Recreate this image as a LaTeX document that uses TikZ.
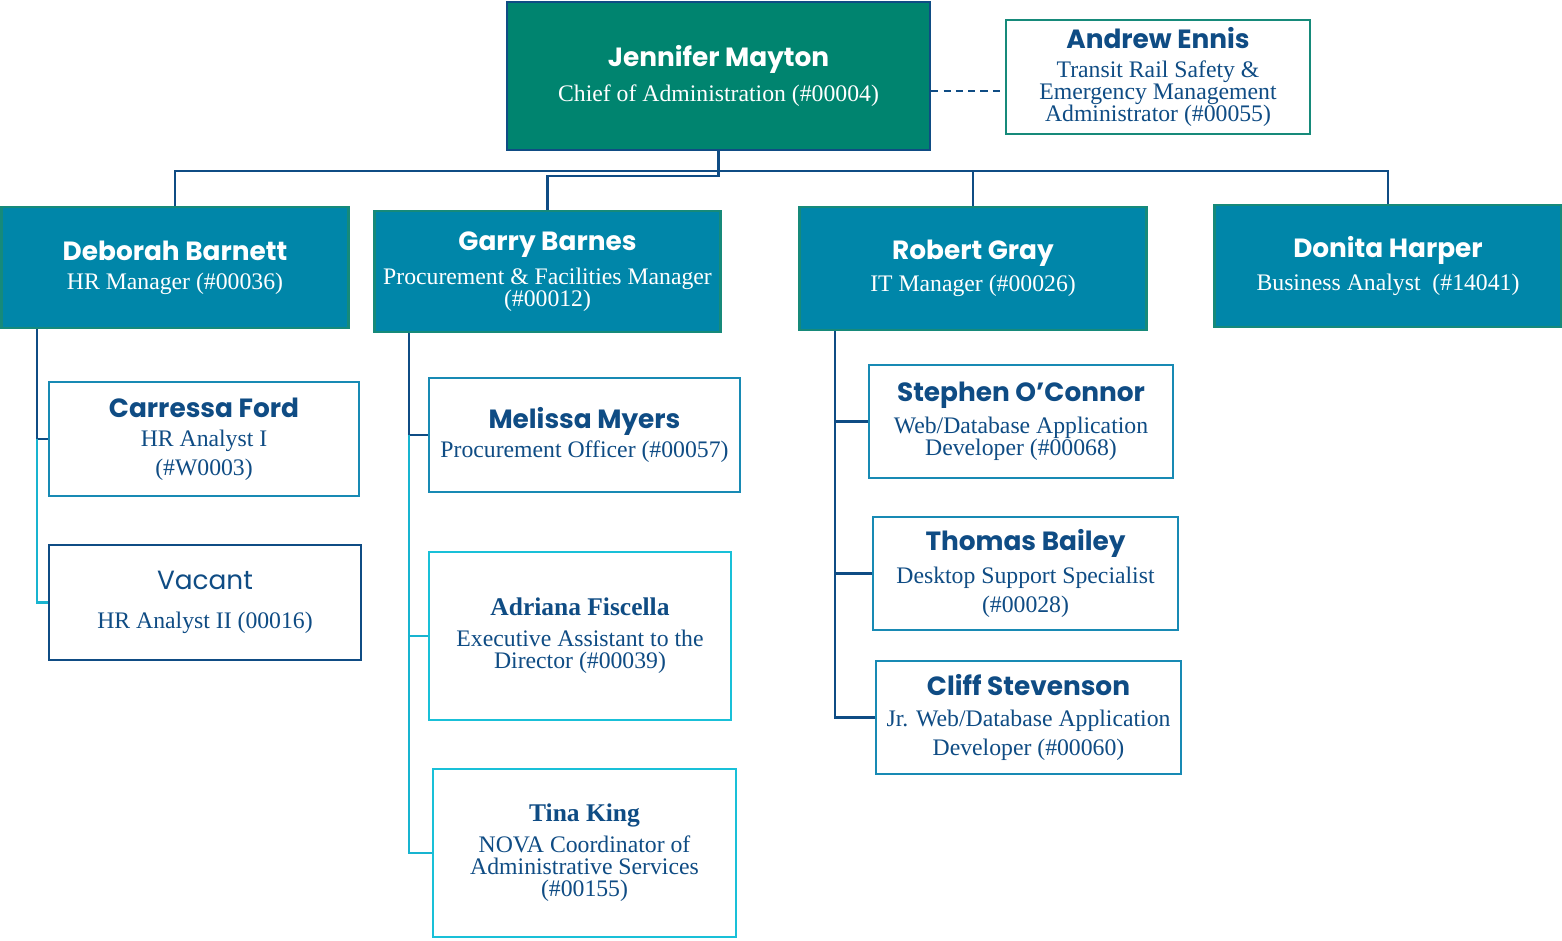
\documentclass[tikz,border=0pt]{standalone}
\usepackage{fontspec}
\setmainfont{Liberation Serif}
\newfontfamily\namefont{Poppins}
\definecolor{chiefgreen}{RGB}{0,132,111}
\definecolor{mgrblue}{RGB}{0,134,169}
\definecolor{mgredge}{RGB}{22,138,122}
\definecolor{navy}{RGB}{15,76,132}
\definecolor{midblue}{RGB}{24,138,180}
\definecolor{brightcyan}{RGB}{25,192,216}
\newcommand{\nm}[1]{{\namefont\bfseries\fontsize{15}{17}\selectfont #1}}
\newcommand{\snm}[1]{{\bfseries\fontsize{14.5}{17}\selectfont #1}}
\begin{document}
\begin{tikzpicture}[x=0.02cm,y=-0.02cm,
  box/.style={rectangle,align=center,inner sep=2pt,line width=1.5pt,
    font=\fontsize{13.5}{12.5}\selectfont},
  chief/.style={box,draw=navy,fill=chiefgreen,text=white},
  mgr/.style={box,draw=mgredge,fill=mgrblue,text=white,minimum width=6.93cm},
  staff/.style={box,draw=midblue,fill=white,text=navy},
  link/.style={draw=navy,line width=1.6pt},
  sublink/.style={draw=brightcyan!90!navy,line width=1.6pt}]
\useasboundingbox(0,0)rectangle(1562,940);
% top
\node[chief,minimum width=8.46cm,minimum height=2.96cm](jm)at(718.5,76)
  {\nm{Jennifer Mayton}\\[5pt]Chief of Administration (\#00004)};
\node[staff,draw=mgredge,minimum width=6.08cm,minimum height=2.28cm](ae)at(1158,77)
  {\nm{Andrew Ennis}\\[4pt]Transit Rail Safety \&\\Emergency Management\\Administrator (\#00055)};
% managers
\node[mgr,minimum height=2.42cm](db)at(175,267.5){\nm{Deborah Barnett}\\[4pt]HR Manager (\#00036)};
\node[mgr,minimum height=2.42cm](gb)at(547.5,271.5)
  {\nm{Garry Barnes}\\[5pt]Procurement \& Facilities Manager\\(\#00012)};
\node[mgr,minimum height=2.46cm](rg)at(973,268.5){\nm{Robert Gray}\\[4pt]IT Manager (\#00026)};
\node[mgr,minimum height=2.44cm](dh)at(1388,266){\nm{Donita Harper}\\[4pt]Business Analyst~~(\#14041)};
% staff
\node[staff,minimum width=6.2cm,minimum height=2.28cm](cf)at(204,439)
  {\nm{Carressa Ford}\\[4pt]HR Analyst I\\[4pt](\#W0003)};
\node[staff,draw=navy,minimum width=6.24cm,minimum height=2.3cm](va)at(205,602.5)
  {{\namefont\fontsize{15}{17}\selectfont Vacant}\\[10pt]HR Analyst II (00016)};
\node[staff,minimum width=6.22cm,minimum height=2.28cm](mm)at(584.5,435)
  {\nm{Melissa Myers}\\[2pt]Procurement Officer (\#00057)};
\node[staff,draw=brightcyan,minimum width=6.04cm,minimum height=3.36cm](af)at(580,636)
  {\snm{Adriana Fiscella}\\[5pt]Executive Assistant to the\\Director (\#00039)};
\node[staff,draw=brightcyan,minimum width=6.06cm,minimum height=3.36cm](tk)at(584.5,853)
  {\snm{Tina King}\\[4pt]NOVA Coordinator of\\Administrative Services\\(\#00155)};
\node[staff,minimum width=6.08cm,minimum height=2.26cm](so)at(1021,421.5)
  {\nm{Stephen O’Connor}\\[4pt]Web/Database Application\\Developer (\#00068)};
\node[staff,minimum width=6.1cm,minimum height=2.26cm](tb)at(1025.5,573.5)
  {\nm{Thomas Bailey}\\[4pt]Desktop Support Specialist\\[4pt](\#00028)};
\node[staff,minimum width=6.1cm,minimum height=2.26cm](cs)at(1028.5,717.5)
  {\nm{Cliff Stevenson}\\[5pt]Jr. Web/Database Application\\[4pt]Developer (\#00060)};
% bus lines
\coordinate(j1)at(718.5,171);
\coordinate(j2)at(718.5,176);
\coordinate(dl)at(0,91);
\draw[link](db.north)|-(j1)-|(dh.north);
\draw[link](rg.north)--(rg.north|-j1);
\draw[link](jm.south)--(j2)-|(gb.north);
\draw[link,dash pattern=on 4pt off 3pt](jm.east|-dl)--(ae.west|-dl);
% spines
\coordinate(sd)at(37,0);
\coordinate(sg)at(409,0);
\coordinate(sr)at(835,0);
\draw[link](db.south-|sd)|-(cf.west);
\draw[sublink](cf.west-|sd)|-(va.west);
\draw[link](gb.south-|sg)|-(mm.west);
\draw[sublink](mm.west-|sg)|-(af.west);
\draw[sublink](af.west-|sg)|-(tk.west);
\draw[link](rg.south-|sr)|-(so.west);
\draw[link](so.west-|sr)|-(tb.west);
\draw[link](tb.west-|sr)|-(cs.west);
\end{tikzpicture}
\end{document}
